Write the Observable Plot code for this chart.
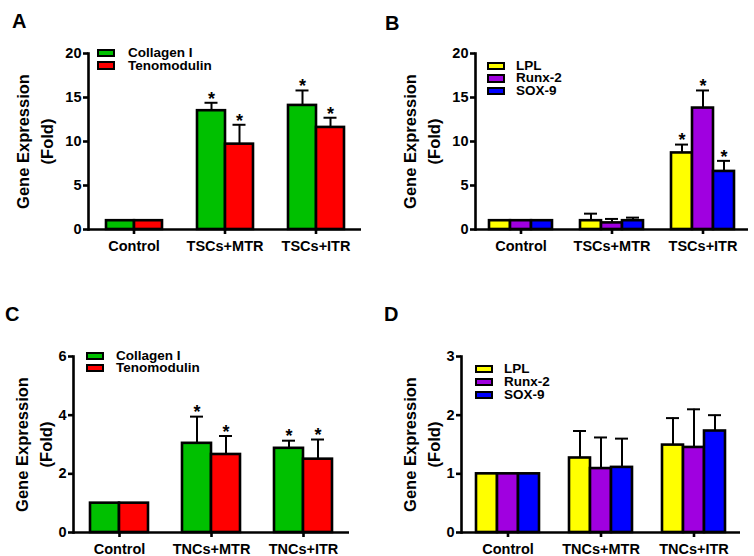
<!DOCTYPE html>
<html><head><meta charset="utf-8">
<script src="https://cdn.jsdelivr.net/npm/d3@7"></script>
<script src="https://cdn.jsdelivr.net/npm/@observablehq/plot@0.6"></script>
<style>
body{margin:0;background:#fff;}
#root{position:relative;width:754px;height:556px;overflow:hidden;background:#fff;font-family:"Liberation Sans",Arial,sans-serif;color:#000;}
.panel{position:absolute;width:377px;height:278px;}
.panel svg{position:absolute;left:0;top:0;overflow:visible;}
.plabel{position:absolute;font-size:20px;font-weight:bold;line-height:20px;}
.legend{position:absolute;font-size:13.5px;font-weight:bold;}
.legend .row{display:flex;align-items:center;white-space:nowrap;overflow:visible;}
.legend .sw{box-sizing:border-box;width:18px;height:8.5px;border:2px solid #000;flex:none;}
.legend .tx{display:block;overflow:visible;}
</style></head>
<body><div id="root"></div>
<script>
// Categories and series
const groupsTop = ["Control", "TSCs+MTR", "TSCs+ITR"];
const groupsBottom = ["Control", "TNCs+MTR", "TNCs+ITR"];
const tenoSeries = ["Collagen I", "Tenomodulin"];
const tenoColors = ["#00c000", "#ff0000"];
const nonTenoSeries = ["LPL", "Runx-2", "SOX-9"];
const nonTenoColors = ["#ffff00", "#a000e0", "#0000ff"];
const yLabel = "Gene Expression\n(Fold)";

// Panel A (TSCs, tenocyte genes)
const aCollagen = [1, 13.5, 14.1];
const aCollagenErr = [0, 0.9, 1.7];
const aTeno = [1, 9.7, 11.6];
const aTenoErr = [0, 2.2, 1.1];
const aCollagenSig = [false, true, true];
const aTenoSig = [false, true, true];
const aTicks = [0, 5, 10, 15, 20];

// Panel B (TSCs, non-tenocyte genes)
const bLPL = [1, 1.0, 8.7];
const bLPLErr = [0, 0.8, 0.95];
const bRunx = [1, 0.75, 13.8];
const bRunxErr = [0, 0.45, 2.0];
const bSox = [1, 1.0, 6.6];
const bSoxErr = [0, 0.35, 1.2];
const bLPLSig = [false, false, true];
const bRunxSig = [false, false, true];
const bSoxSig = [false, false, true];
const bTicks = [0, 5, 10, 15, 20];

// Panel C (TNCs, tenocyte genes)
const cCollagen = [1, 3.04, 2.87];
const cCollagenErr = [0, 0.91, 0.26];
const cTeno = [1, 2.66, 2.5];
const cTenoErr = [0, 0.63, 0.67];
const cCollagenSig = [false, true, true];
const cTenoSig = [false, true, true];
const cTicks = [0, 2, 4, 6];

// Panel D (TNCs, non-tenocyte genes)
const dLPL = [1, 1.27, 1.49];
const dLPLErr = [0, 0.46, 0.46];
const dRunx = [1, 1.09, 1.45];
const dRunxErr = [0, 0.53, 0.65];
const dSox = [1, 1.11, 1.73];
const dSoxErr = [0, 0.49, 0.27];
const dLPLSig = [false, false, false];
const dRunxSig = [false, false, false];
const dSoxSig = [false, false, false];
const dTicks = [0, 1, 2, 3];

function buildRows(groups, series, means, errs, sigs) {
  const out = [];
  groups.forEach((g, i) => series.forEach((s, j) => {
    out.push({group: g, series: s, mean: means[j][i], err: errs[j][i],
              upper: means[j][i] + errs[j][i], sig: sigs[j][i]});
  }));
  return out;
}

const panels = [
  {id: "A", left: 0, top: 0, groups: groupsTop, series: tenoSeries, colors: tenoColors,
   means: [aCollagen, aTeno], errs: [aCollagenErr, aTenoErr], sigs: [aCollagenSig, aTenoSig], ticks: aTicks,
   ml: 87, mr: 15, mt: 53, mb: 49, padOuter: 0.58, cap: 7.5, labelDx: -76,
   lab: {x: 12, y: 10.5}, leg: {x: 97, y: 46.6, pitch: 12.7, gap: 13}},
  {id: "B", left: 377, top: 0, groups: groupsTop, series: nonTenoSeries, colors: nonTenoColors,
   means: [bLPL, bRunx, bSox], errs: [bLPLErr, bRunxErr, bSoxErr], sigs: [bLPLSig, bRunxSig, bSoxSig], ticks: bTicks,
   ml: 97, mr: 5, mt: 53, mb: 49, padOuter: 0.57, cap: 4, labelDx: -76,
   lab: {x: 8, y: 12.5}, leg: {x: 110, y: 59.5, pitch: 12.5, gap: 11}},
  {id: "C", left: 0, top: 278, groups: groupsBottom, series: tenoSeries, colors: tenoColors,
   means: [cCollagen, cTeno], errs: [cCollagenErr, cTenoErr], sigs: [cCollagenSig, cTenoSig], ticks: cTicks,
   ml: 72, mr: 27, mt: 78, mb: 24, padOuter: 0.545, cap: 8, labelDx: -62,
   lab: {x: 5, y: 26}, leg: {x: 86, y: 72, pitch: 12, gap: 12}},
  {id: "D", left: 377, top: 278, groups: groupsBottom, series: nonTenoSeries, colors: nonTenoColors,
   means: [dLPL, dRunx, dSox], errs: [dLPLErr, dRunxErr, dSoxErr], sigs: [dLPLSig, dRunxSig, dSoxSig], ticks: dTicks,
   ml: 83, mr: 14, mt: 78, mb: 24, padOuter: 0.62, cap: 4, labelDx: -62,
   lab: {x: 7, y: 26}, leg: {x: 98, y: 84.5, pitch: 13, gap: 11}}
];

const root = document.getElementById("root");

for (const p of panels) {
  const rows = buildRows(p.groups, p.series, p.means, p.errs, p.sigs);
  const errRows = rows.filter(d => d.err > 0);
  const sigRows = rows.filter(d => d.sig);
  const yMax = p.ticks[p.ticks.length - 1];

  const chart = Plot.plot({
    width: 377, height: 278,
    marginLeft: p.ml, marginRight: p.mr, marginTop: p.mt, marginBottom: p.mb,
    style: {fontFamily: '"Liberation Sans", Arial, sans-serif', fontSize: "14.5px", fontWeight: "bold", color: "#000", background: "transparent"},
    fx: {domain: p.groups, padding: 0, label: null},
    x: {domain: p.series, paddingInner: 0, paddingOuter: p.padOuter, axis: null},
    y: {domain: [0, yMax], label: null},
    color: {domain: p.series, range: p.colors},
    marks: [
      Plot.barY(rows, {fx: "group", x: "series", y: "mean", fill: "series", stroke: "#000", strokeWidth: 2.6}),
      Plot.ruleX(errRows, {fx: "group", x: "series", y1: "mean", y2: "upper", stroke: "#000", strokeWidth: 2}),
      Plot.tickY(errRows, {fx: "group", x: "series", y: "upper", stroke: "#000", strokeWidth: 2, insetLeft: p.cap, insetRight: p.cap}),
      Plot.text(sigRows, {fx: "group", x: "series", y: "upper", text: () => "*", fontSize: 18, dy: -4}),
      Plot.ruleY([0], {stroke: "#000", strokeWidth: 2.6}),
      Plot.frame({anchor: "left", facetAnchor: "left", stroke: "#000", strokeWidth: 2.6}),
      Plot.axisY({ticks: p.ticks, tickFormat: d3.format("d"), tickSize: 5, tickPadding: 2, strokeWidth: 2.6, label: null, fontSize: 14.5}),
      Plot.axisFx({anchor: "bottom", tickSize: 5, tickPadding: 6, strokeWidth: 2.6, label: null, fontSize: 14.5}),
      Plot.text([yLabel], {frameAnchor: "left", rotate: -90, lineAnchor: "top", textAnchor: "middle",
        dx: p.labelDx, lineHeight: 1.45, fontSize: 16.5, fontWeight: "bold", facetAnchor: "left"})
    ]
  });

  const div = document.createElement("div");
  div.className = "panel";
  div.style.left = p.left + "px";
  div.style.top = p.top + "px";
  div.appendChild(chart);

  const lab = document.createElement("div");
  lab.className = "plabel";
  lab.style.left = p.lab.x + "px";
  lab.style.top = p.lab.y + "px";
  lab.textContent = p.id;
  div.appendChild(lab);

  const leg = document.createElement("div");
  leg.className = "legend";
  leg.style.left = p.leg.x + "px";
  leg.style.top = p.leg.y + "px";
  p.series.forEach((s, j) => {
    const row = document.createElement("div");
    row.className = "row";
    row.style.height = p.leg.pitch + "px";
    const sw = document.createElement("span");
    sw.className = "sw";
    sw.style.background = p.colors[j];
    sw.style.marginRight = p.leg.gap + "px";
    const t = document.createElement("span");
    t.className = "tx";
    t.style.lineHeight = (p.leg.pitch - 0.5) + "px";
    t.style.height = (p.leg.pitch - 0.5) + "px";
    t.textContent = s;
    row.appendChild(sw);
    row.appendChild(t);
    leg.appendChild(row);
  });
  div.appendChild(leg);
  root.appendChild(div);
}
</script>
</body></html>
